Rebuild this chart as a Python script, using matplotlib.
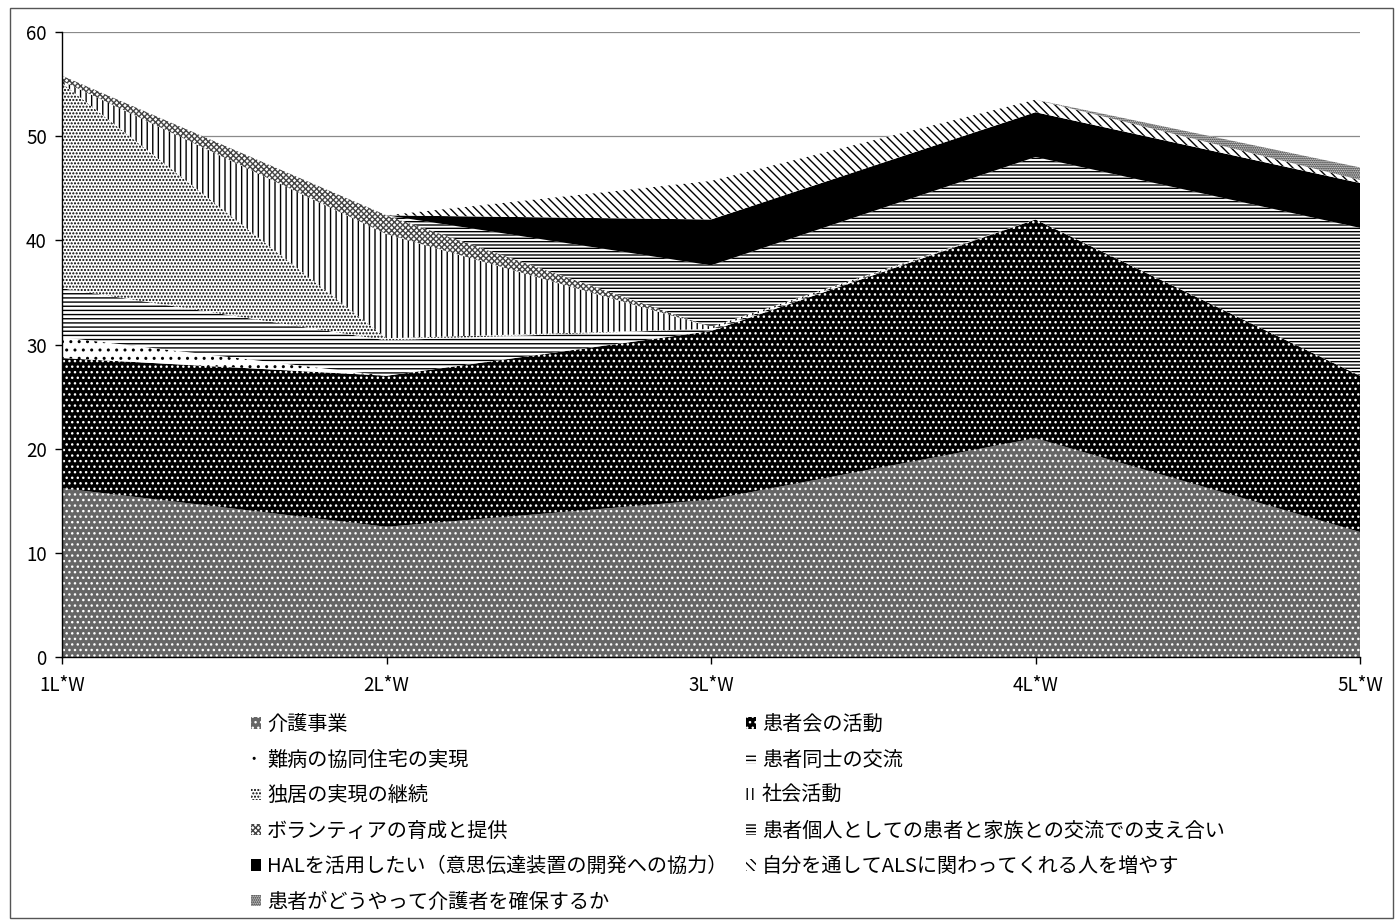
import matplotlib

matplotlib.use("Agg")
import matplotlib.pyplot as plt  # noqa: E402
from matplotlib.patches import Rectangle  # noqa: E402

plt.rcParams["font.family"] = ["Noto Sans CJK JP", "DejaVu Sans"]
plt.rcParams["hatch.linewidth"] = 1.0

categories = ["1L*W", "2L*W", "3L*W", "4L*W", "5L*W"]

# series, bottom to top of the stack
kaigo_jigyo = [16.2, 12.5, 15.1, 21.0, 12.0]
kanjakai = [12.5, 14.5, 16.2, 21.0, 15.0]
nanbyo_jutaku = [2.0, 0.0, 0.0, 0.0, 0.0]
kanja_doshi = [4.7, 3.4, 0.2, 0.0, 0.0]
dokkyo = [19.7, 0.2, 0.0, 0.0, 0.0]
shakai_katsudo = [0.2, 10.0, 0.2, 0.0, 0.0]
volunteer = [0.5, 1.8, 0.0, 0.0, 0.0]
kojin_kazoku = [0.0, 0.0, 5.9, 6.0, 14.2]
hal = [0.0, 0.0, 4.4, 4.3, 4.3]
jibun_als = [0.0, 0.0, 3.7, 1.2, 0.3]
kaigosha = [0.0, 0.0, 0.0, 0.0, 1.2]

labels = [
    "介護事業",
    "患者会の活動",
    "難病の協同住宅の実現",
    "患者同士の交流",
    "独居の実現の継続",
    "社会活動",
    "ボランティアの育成と提供",
    "患者個人としての患者と家族との交流での支え合い",
    "HALを活用したい（意思伝達装置の開発への協力）",
    "自分を通してALSに関わってくれる人を増やす",
    "患者がどうやって介護者を確保するか",
]
series = [
    kaigo_jigyo, kanjakai, nanbyo_jutaku, kanja_doshi, dokkyo,
    shakai_katsudo, volunteer, kojin_kazoku, hal, jibun_als, kaigosha,
]

# (face, hatch colour, hatch) -- black & white pattern fills
styles = [
    ("#666666", "white", "..."),
    ("black", "white", "..."),
    ("white", "black", ".."),
    ("white", "black", "----"),
    ("white", "black", "....."),
    ("white", "black", "|||"),
    ("white", "#444444", "xxxxxx"),
    ("white", "black", "-----"),
    ("black", "#222222", ""),
    ("white", "black", "\\\\\\\\"),
    ("white", "black", "........"),
]

fig = plt.figure(figsize=(13.96, 9.21), dpi=100)
ax = fig.add_axes([62 / 1396, 1 - 657 / 921, (1360 - 62) / 1396, (657 - 32) / 921])

x = list(range(len(categories)))
polys = ax.stackplot(x, *series, labels=labels, zorder=2)
for poly, (face, hcol, hatch) in zip(polys, styles):
    poly.set_facecolor(face)
    poly.set_edgecolor(hcol)
    poly.set_hatch(hatch)
    poly.set_linewidth(0)

ax.set_xlim(0, 4)
ax.set_ylim(0, 60)
ax.set_yticks(range(0, 61, 10))
ax.set_xticks(x)
ax.set_xticklabels(categories)
ax.yaxis.grid(True, color="#8a8a8a", lw=0.9, zorder=0)
ax.set_axisbelow(True)
for side in ("top", "right"):
    ax.spines[side].set_visible(False)
for side in ("left", "bottom"):
    ax.spines[side].set_color("black")
    ax.spines[side].set_linewidth(1.0)
ax.tick_params(axis="both", direction="out", length=5, width=1, labelsize=13.5,
               colors="black", pad=6)
ax.tick_params(axis="x", pad=8)

# legend laid out row by row in two columns
order = [0, 2, 4, 6, 8, 10, 1, 3, 5, 7, 9]
fig.legend(
    [polys[i] for i in order],
    [labels[i] for i in order],
    ncol=2,
    loc="upper left",
    bbox_to_anchor=(241 / 1396, 1 - 704 / 921),
    frameon=False,
    fontsize=14.5,
    handlelength=0.5,
    handleheight=0.5,
    handletextpad=0.3,
    labelspacing=0.72,
    columnspacing=0.9,
    borderpad=0,
)

# thin frame round the whole chart
fig.patches.append(Rectangle((10 / 1396, 3 / 921), 1383 / 1396, 910 / 921,
                             transform=fig.transFigure, fill=False,
                             edgecolor="#555555", lw=1.0))

fig.savefig("out.png", dpi=100)
